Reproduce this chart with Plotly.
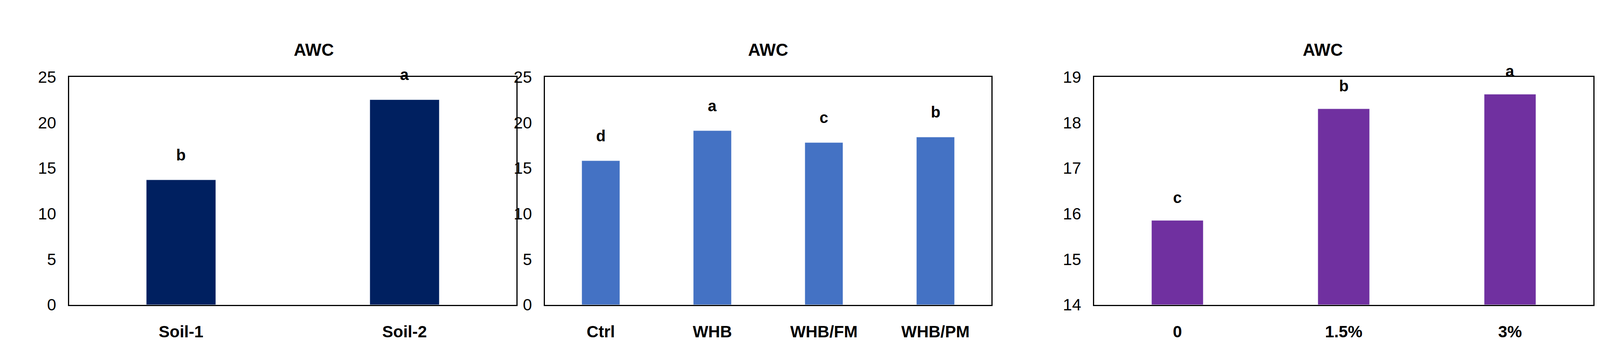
import plotly.graph_objects as go

cats1 = ["Soil-1", "Soil-2"]
vals1 = [13.7, 22.5]
lets1 = ["b", "a"]
cats2 = ["Ctrl", "WHB", "WHB/FM", "WHB/PM"]
vals2 = [15.8, 19.1, 17.8, 18.4]
lets2 = ["d", "a", "c", "b"]
cats3 = ["0", "1.5%", "3%"]
vals3 = [15.85, 18.3, 18.62]
lets3 = ["c", "b", "a"]

FONT = "Liberation Sans Narrow, Arial Narrow, Liberation Sans, sans-serif"
fig = go.Figure()
panels = [
    (cats1, vals1, lets1, "#002060", 0.31, [0, 25], 5, [0.0415, 0.322], "", 40),
    (cats2, vals2, lets2, "#4472C4", 0.34, [0, 25], 5, [0.340, 0.620], "2", 40),
    (cats3, vals3, lets3, "#7030A0", 0.31, [14, 19], 1, [0.6846, 0.9977], "3", 35),
]
for cats, vals, lets, col, w, rng, dt, dom, s, shift in panels:
    fig.add_trace(go.Bar(x=cats, y=[v - rng[0] for v in vals], base=rng[0], width=w,
                         marker_color=col, xaxis="x" + s, yaxis="y" + s, showlegend=False))
    fig.update_layout(**{
        "xaxis" + s: dict(domain=dom, anchor="y" + s, showline=True, linecolor="black", linewidth=3,
                          mirror=True, ticks="", tickfont=dict(size=42, family=FONT, color="black"),
                          tickprefix="<b>", ticksuffix="</b>", ticklabelstandoff=30),
        "yaxis" + s: dict(domain=[0.1385, 0.809], anchor="x" + s, range=rng, dtick=dt,
                          showline=True, linecolor="black", linewidth=3, mirror=True,
                          showgrid=False, zeroline=False, ticks="", ticklabelstandoff=22,
                          tickfont=dict(size=42, family=FONT, color="black")),
    })
    for c, v, l in zip(cats, vals, lets):
        fig.add_annotation(x=c, y=v, text=f"<b>{l}</b>", xref="x" + s, yref="y" + s,
                           showarrow=False, yanchor="bottom", yshift=shift,
                           font=dict(size=40, family=FONT, color="black"))
    fig.add_annotation(text="<b>AWC</b>", x=(dom[0] + dom[1]) / 2, y=0.92, xref="paper", yref="paper",
                       showarrow=False, font=dict(size=44, family=FONT, color="black"))

fig.update_layout(autosize=True, margin=dict(l=0, r=0, t=0, b=0),
                  plot_bgcolor="white", paper_bgcolor="white")
fig.write_html("out.html", default_width="100%", default_height="100vh",
               config={"responsive": True})
